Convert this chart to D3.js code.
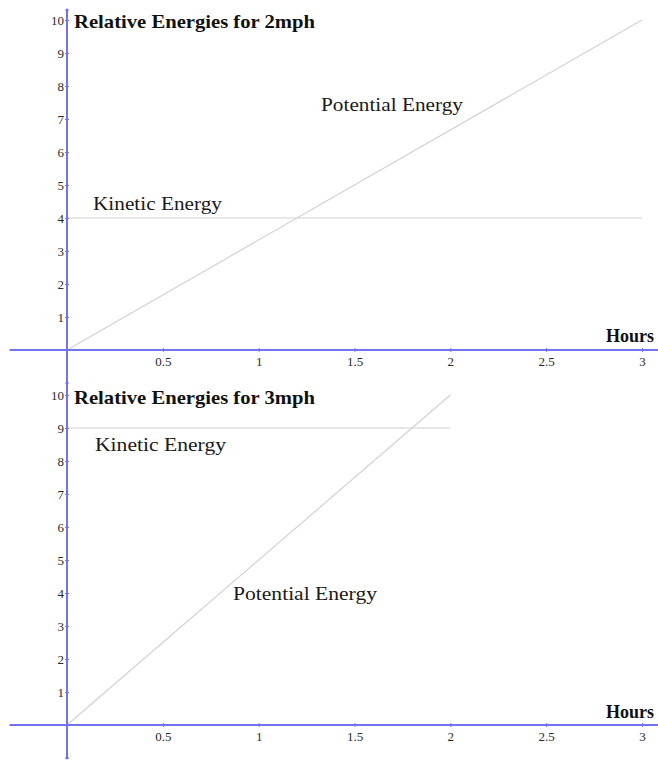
<!DOCTYPE html>
<html>
<head>
<meta charset="utf-8">
<script src="https://cdn.jsdelivr.net/npm/d3@7"></script>
<style>
  html, body { margin: 0; padding: 0; background: #fff; }
  svg { display: block; }
</style>
</head>
<body>
<svg id="chart" width="658" height="761"></svg>
<script>
// ---- data ----
const xTicks = [0.5, 1, 1.5, 2, 2.5, 3];
const xTickLabels = ["0.5", "1", "1.5", "2", "2.5", "3"];
const yTicks = [1, 2, 3, 4, 5, 6, 7, 8, 9, 10];
const yTickLabels = ["1", "2", "3", "4", "5", "6", "7", "8", "9", "10"];
const titles = ["Relative Energies for 2mph", "Relative Energies for 3mph"];
const xAxisLabel = "Hours";
// series: [hours, energy]
const potential2 = [[0, 0], [3, 10]];
const kinetic2 = [[0, 4], [3, 4]];
const potential3 = [[0, 0], [2, 10]];
const kinetic3 = [[0, 9], [2, 9]];

const svg = d3.select("#chart");
const AXIS = "#7373f2";
const LINE = "#d2d2d2";
const SERIF = '"Liberation Serif", "DejaVu Serif", serif';

const panels = [
  {
    y0: 350, y1: 20, title: titles[0], titleY: 28, hoursY: 342,
    yAxisExt: [10.3, -1.2], yEndDot: false,
    series: [
      { data: potential2, label: "Potential Energy", lx: 321, ly: 111, lw: 142 },
      { data: kinetic2, label: "Kinetic Energy", lx: 93, ly: 210, lw: 129 }
    ]
  },
  {
    y0: 725, y1: 395, title: titles[1], titleY: 404, hoursY: 718,
    yAxisExt: [10.3, -1.0], yEndDot: true,
    series: [
      { data: kinetic3, label: "Kinetic Energy", lx: 95, ly: 451, lw: 131 },
      { data: potential3, label: "Potential Energy", lx: 233, ly: 600, lw: 144 }
    ]
  }
];

panels.forEach((p, i) => {
  const x = d3.scaleLinear().domain([0, 3]).range([67, 642]);
  const y = d3.scaleLinear().domain([0, 10]).range([p.y0, p.y1]);
  const g = svg.append("g");

  // data lines
  const line = d3.line().x(d => x(d[0])).y(d => y(d[1]));
  p.series.forEach(s => {
    g.append("path").attr("d", line(s.data))
      .attr("fill", "none").attr("stroke", LINE).attr("stroke-width", 1.2);
  });

  // x axis line
  g.append("line")
    .attr("x1", x(-0.3)).attr("x2", 658)
    .attr("y1", y(0)).attr("y2", y(0))
    .attr("stroke", AXIS).attr("stroke-width", 2);
  // y axis line
  g.append("line")
    .attr("x1", x(0)).attr("x2", x(0))
    .attr("y1", y(p.yAxisExt[0])).attr("y2", y(p.yAxisExt[1]))
    .attr("stroke", AXIS).attr("stroke-width", 2);
  if (i === 0) {
    g.append("circle").attr("cx", x(0)).attr("cy", y(p.yAxisExt[0])).attr("r", 1.6).attr("fill", AXIS);
  }
  if (p.yEndDot) {
    g.append("circle").attr("cx", x(0)).attr("cy", y(p.yAxisExt[1])).attr("r", 1.4).attr("fill", AXIS);
  }

  // x axis ticks
  const xa = d3.axisBottom(x).tickValues(xTicks)
    .tickFormat((d, k) => xTickLabels[k]).tickSize(2).tickPadding(5);
  const xg = g.append("g").attr("transform", `translate(0,${y(0)})`).call(xa);
  xg.select(".domain").remove();
  xg.selectAll(".tick line").attr("y1", -2).attr("y2", 2).attr("stroke", AXIS).attr("stroke-width", 1);
  xg.selectAll(".tick text").attr("font-size", 13).attr("font-family", SERIF).attr("fill", "#2a2a2a");

  // y axis ticks
  const ya = d3.axisLeft(y).tickValues(yTicks)
    .tickFormat((d, k) => yTickLabels[k]).tickSize(2).tickPadding(1);
  const yg = g.append("g").attr("transform", `translate(${x(0)},0)`).call(ya);
  yg.select(".domain").remove();
  yg.selectAll(".tick line").attr("x1", -2).attr("x2", 2).attr("stroke", AXIS).attr("stroke-width", 1);
  yg.selectAll(".tick text").attr("font-size", 13).attr("font-family", SERIF).attr("fill", "#2a2a2a");

  // extra small tick below origin
  g.append("line").attr("x1", x(0) - 2).attr("x2", x(0) + 2)
    .attr("y1", y(-1)).attr("y2", y(-1)).attr("stroke", AXIS).attr("stroke-width", 1);

  // title
  g.append("text").attr("x", 74).attr("y", p.titleY)
    .attr("font-family", SERIF).attr("font-weight", "bold").attr("font-size", 19)
    .attr("textLength", 241).attr("lengthAdjust", "spacingAndGlyphs")
    .attr("fill", "#111").text(p.title);

  // x axis label
  g.append("text").attr("x", 606).attr("y", p.hoursY)
    .attr("font-family", SERIF).attr("font-weight", "bold").attr("font-size", 18)
    .attr("fill", "#111").text(xAxisLabel);

  // series labels
  p.series.forEach(s => {
    g.append("text").attr("x", s.lx).attr("y", s.ly)
      .attr("font-family", SERIF).attr("font-size", 18)
      .attr("textLength", s.lw).attr("lengthAdjust", "spacingAndGlyphs")
      .attr("fill", "#1a1a1a").text(s.label);
  });
});
</script>
</body>
</html>
